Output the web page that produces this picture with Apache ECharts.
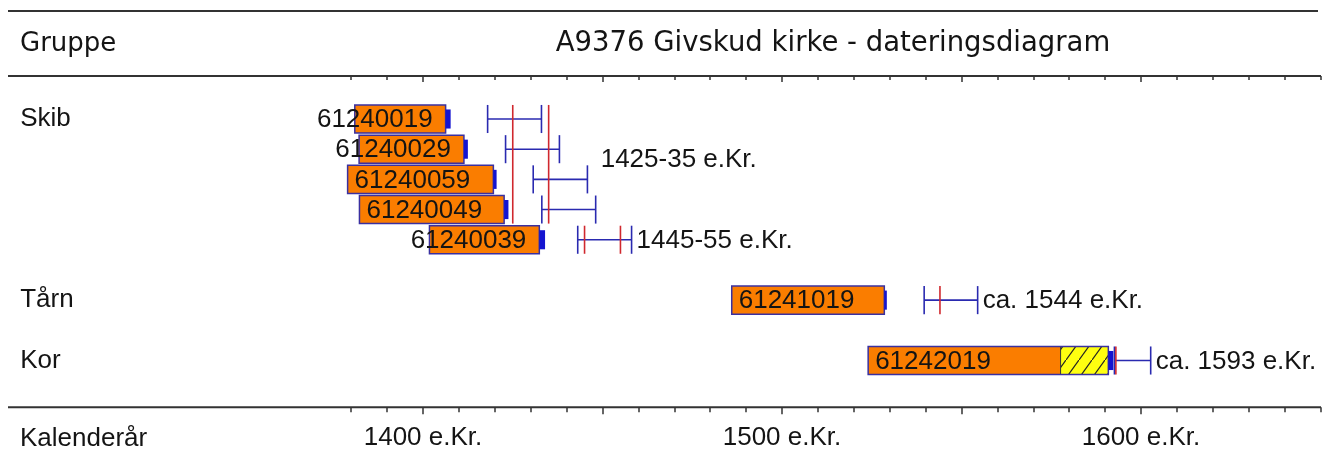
<!DOCTYPE html>
<html><head><meta charset="utf-8">
<script src="https://cdn.jsdelivr.net/npm/echarts@6/dist/echarts.min.js"></script>
<style>html,body{margin:0;padding:0;background:#fff}#c{width:1336px;height:465px}</style>
</head><body><div id="c"></div>
<script>
// ---------------- data ----------------
const titleText = 'A9376 Givskud kirke - dateringsdiagram';
const headerLeft = 'Gruppe';
const footerLeft = 'Kalenderår';
const groupNames = ['Skib', 'Tårn', 'Kor'];
const groupRows = [0, 6, 8];
const sampleIds = ['61240019', '61240029', '61240059', '61240049', '61240039', '61241019', '61242019'];
const sampleRows = [0, 1, 2, 3, 4, 6, 8];
const ringStart = [1381, 1382.2, 1379, 1382.3, 1401.8, 1486, 1524];
const heartEnd = [1406.3, 1411.4, 1419.6, 1422.6, 1432.4, 1528.5, 1577.6];
const sapEnd = [null, null, null, null, null, null, 1590.9];
const lastRing = [1407.7, 1412.5, 1420.5, 1423.8, 1434, 1529.2, 1592.3];
const fellStart = [1418, 1423, 1430.7, 1433.1, 1443.1, 1539.6, 1592.6];
const fellEnd = [1433, 1438, 1445.8, 1448.1, 1458.1, 1554.5, 1602.7];
const dateYears = [1425, 1435, 1445, 1455, 1544, 1593];
const dateRowFrom = [0, 0, 4, 4, 6, 8];
const dateRowTo = [3, 3, 4, 4, 6, 8];
const groupDateText = ['1425-35 e.Kr.', '1445-55 e.Kr.', 'ca. 1544 e.Kr.', 'ca. 1593 e.Kr.'];
const groupDateRowFrom = [0, 4, 6, 8];
const groupDateRowTo = [3, 4, 6, 8];
const axisMin = 1380, axisMax = 1650, tickStep = 10;
const majorTickYears = [1400, 1450, 1500, 1550, 1600];
const tickLabelYears = [1400, 1500, 1600];
const yearSuffix = ' e.Kr.';

// ---------------- styles ----------------
const FONT = '"Liberation Sans", Arial, sans-serif';
const TFONT = '"DejaVu Sans", sans-serif';
const INK = '#141414';
const ORANGE = '#FA7D00';
const OUTLINE = '#3a30a0';
const CAP = '#1414d0';
const BLUE = '#2a2ab0';
const RED = '#d0282e';
const BAR_FRAC = 0.93;

const mctx = document.createElement('canvas').getContext('2d');
mctx.font = '26px ' + FONT;

// hatch pattern for sapwood
const hatch = document.createElement('canvas');
hatch.width = 13; hatch.height = 18;
(function () {
  const g = hatch.getContext('2d');
  g.fillStyle = '#FFFF10'; g.fillRect(0, 0, 13, 18);
  g.strokeStyle = '#222'; g.lineWidth = 1.2;
  g.beginPath(); g.moveTo(-1, 19.4); g.lineTo(14, -1.4); g.stroke();
})();

const barData = sampleIds.map((id, i) => [sampleRows[i], ringStart[i], heartEnd[i], sapEnd[i] == null ? heartEnd[i] : sapEnd[i], lastRing[i], i]);
const intData = sampleIds.map((id, i) => [sampleRows[i], fellStart[i], fellEnd[i]]);
const redData = dateYears.map((y, i) => [y, dateRowFrom[i], dateRowTo[i]]);
const grpData = groupDateText.map((t, g) => {
  let mx = -Infinity;
  sampleRows.forEach((r, i) => { if (r >= groupDateRowFrom[g] && r <= groupDateRowTo[g]) mx = Math.max(mx, fellEnd[i]); });
  return [mx, groupDateRowFrom[g], groupDateRowTo[g], g];
});

function barRender(params, api) {
  const row = api.value(0), s = api.value(1), h = api.value(2), sp = api.value(3), lr = api.value(4), idx = api.value(5);
  const p0 = api.coord([s, row]), p1 = api.coord([h, row]), ps = api.coord([sp, row]), pl = api.coord([lr, row]);
  const bh = api.size([0, 1])[1] * BAR_FRAC;
  const top = p0[1] - bh / 2;
  const outEnd = Math.max(p1[0], ps[0]);
  const ch = [];
  ch.push({ type: 'rect', shape: { x: p0[0], y: top, width: p1[0] - p0[0], height: bh }, style: { fill: ORANGE } });
  if (ps[0] > p1[0] + 0.5) {
    ch.push({ type: 'rect', shape: { x: p1[0], y: top, width: ps[0] - p1[0], height: bh }, style: { fill: { image: hatch, repeat: 'repeat' } } });
    ch.push({ type: 'line', shape: { x1: p1[0], y1: top, x2: p1[0], y2: top + bh }, style: { stroke: '#333', lineWidth: 1 } });
  }
  ch.push({ type: 'rect', shape: { x: p0[0], y: top, width: outEnd - p0[0], height: bh }, style: { fill: null, stroke: OUTLINE, lineWidth: 1.5 } });
  ch.push({ type: 'rect', shape: { x: outEnd, y: p0[1] - bh * 0.34, width: Math.max(pl[0] - outEnd, 1), height: bh * 0.68 }, style: { fill: CAP } });
  const txt = sampleIds[idx];
  const tw = mctx.measureText(txt).width;
  const fits = tw + 8 <= (p1[0] - p0[0]);
  ch.push({ type: 'text', style: { text: txt, x: fits ? p0[0] + 7 : p1[0] - 13, y: p0[1] + 1, align: fits ? 'left' : 'right', textAlign: fits ? 'left' : 'right', verticalAlign: 'middle', textVerticalAlign: 'middle', font: '26px ' + FONT, fill: INK } });
  return { type: 'group', children: ch };
}

function intRender(params, api) {
  const row = api.value(0);
  const a = api.coord([api.value(1), row]), b = api.coord([api.value(2), row]);
  const bh = api.size([0, 1])[1] * BAR_FRAC;
  const st = { stroke: BLUE, lineWidth: 1.6 };
  return { type: 'group', children: [
    { type: 'line', shape: { x1: a[0], y1: a[1], x2: b[0], y2: b[1] }, style: st },
    { type: 'line', shape: { x1: a[0], y1: a[1] - bh / 2, x2: a[0], y2: a[1] + bh / 2 }, style: st },
    { type: 'line', shape: { x1: b[0], y1: b[1] - bh / 2, x2: b[0], y2: b[1] + bh / 2 }, style: st }
  ] };
}

function redRender(params, api) {
  const y = api.value(0);
  const rowH = api.size([0, 1])[1];
  const bh = rowH * BAR_FRAC;
  const a = api.coord([y, api.value(1)]), b = api.coord([y, api.value(2)]);
  return { type: 'line', shape: { x1: a[0], y1: a[1] - bh / 2, x2: b[0], y2: b[1] + bh / 2 }, style: { stroke: RED, lineWidth: 1.6 } };
}

function grpRender(params, api) {
  const x = api.value(0);
  const a = api.coord([x, api.value(1)]), b = api.coord([x, api.value(2)]);
  const multi = api.value(2) > api.value(1);
  const cy = (a[1] + b[1]) / 2 + (multi ? -4 : 1);
  return { type: 'text', style: { text: groupDateText[api.value(3)], x: a[0] + 5, y: cy, align: 'left', textAlign: 'left', verticalAlign: 'middle', textVerticalAlign: 'middle', font: '26px ' + FONT, fill: INK } };
}

const chart = echarts.init(document.getElementById('c'), null, { renderer: 'canvas' });
const topAxisY = 76, botAxisY = 407.3;
const gridTop = 103.9, gridH = 271.7;
const baseX = { type: 'value', min: axisMin, max: axisMax, axisLine: { show: false, onZero: false }, splitLine: { show: false } };
chart.setOption({
  animation: false,
  backgroundColor: '#fff',
  grid: { left: 351.2, right: 15.5, top: gridTop, height: gridH, containLabel: false },
  xAxis: [
    Object.assign({}, baseX, { position: 'top', offset: gridTop - topAxisY, interval: tickStep, axisTick: { show: true, inside: true, length: 4, lineStyle: { color: '#333', width: 1.5 } }, axisLabel: { show: false } }),
    Object.assign({}, baseX, { position: 'top', offset: gridTop - topAxisY, axisTick: { show: true, inside: true, length: 6, customValues: majorTickYears, lineStyle: { color: '#333', width: 1.5 } }, axisLabel: { show: false } }),
    Object.assign({}, baseX, { position: 'bottom', offset: botAxisY - gridTop - gridH, interval: tickStep, axisTick: { show: true, inside: false, length: 5, lineStyle: { color: '#333', width: 1.5 } }, axisLabel: { show: false } }),
    Object.assign({}, baseX, { position: 'bottom', offset: botAxisY - gridTop - gridH, axisTick: { show: true, inside: false, length: 7, customValues: majorTickYears, lineStyle: { color: '#333', width: 1.5 } },
      axisLabel: { show: true, customValues: tickLabelYears, formatter: v => v + yearSuffix, margin: 18, fontFamily: FONT, fontSize: 26, color: INK } })
  ],
  yAxis: { type: 'value', inverse: true, min: -0.5, max: 8.5, axisLine: { show: false, onZero: false }, axisTick: { show: false }, splitLine: { show: false },
    axisLabel: { show: true, customValues: groupRows, formatter: v => groupNames[groupRows.indexOf(v)] || '', align: 'left', margin: 331, fontFamily: FONT, fontSize: 26, color: INK, padding: [4, 0, 0, 0] } },
  graphic: [
    { type: 'line', shape: { x1: 8, y1: 11, x2: 1318, y2: 11 }, style: { stroke: '#333', lineWidth: 2 }, silent: true },
    { type: 'line', shape: { x1: 8, y1: topAxisY, x2: 1321, y2: topAxisY }, style: { stroke: '#333', lineWidth: 2 }, silent: true },
    { type: 'line', shape: { x1: 8, y1: botAxisY, x2: 1321, y2: botAxisY }, style: { stroke: '#333', lineWidth: 2 }, silent: true },
    { type: 'text', x: 20, y: 44, style: { text: headerLeft, font: '26px ' + TFONT, fill: INK, align: 'left', textAlign: 'left', verticalAlign: 'middle', textVerticalAlign: 'middle' } },
    { type: 'text', x: 833, y: 44, style: { text: titleText, font: '27.5px ' + TFONT, fill: INK, align: 'center', textAlign: 'center', verticalAlign: 'middle', textVerticalAlign: 'middle' } },
    { type: 'text', x: 20, y: 439, style: { text: footerLeft, font: '26px ' + FONT, fill: INK, align: 'left', textAlign: 'left', verticalAlign: 'middle', textVerticalAlign: 'middle' } }
  ],
  series: [
    { type: 'custom', name: 'bars', coordinateSystem: 'cartesian2d', xAxisIndex: 0, yAxisIndex: 0, renderItem: barRender, data: barData, encode: { x: [1, 2, 3, 4], y: 0 }, clip: false, z: 2 },
    { type: 'custom', name: 'intervals', coordinateSystem: 'cartesian2d', xAxisIndex: 0, renderItem: intRender, data: intData, encode: { x: [1, 2], y: 0 }, clip: false, z: 3 },
    { type: 'custom', name: 'dates', coordinateSystem: 'cartesian2d', xAxisIndex: 0, renderItem: redRender, data: redData, encode: { x: 0, y: [1, 2] }, clip: false, z: 4 },
    { type: 'custom', name: 'groupDates', coordinateSystem: 'cartesian2d', xAxisIndex: 0, renderItem: grpRender, data: grpData, encode: { x: 0, y: [1, 2] }, clip: false, z: 5 }
  ]
});
</script></body></html>
